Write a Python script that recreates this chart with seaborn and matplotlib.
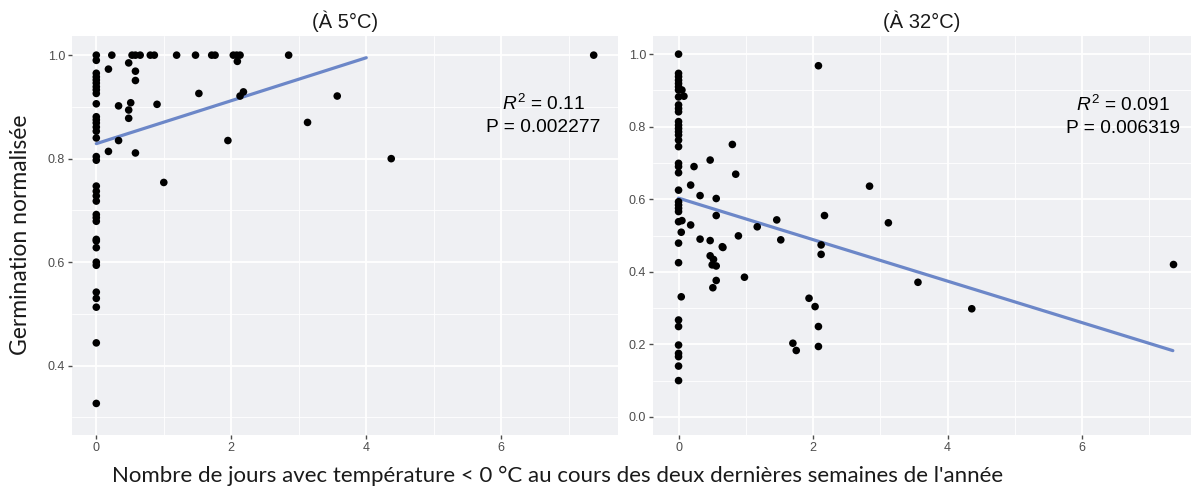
import numpy as np
import pandas as pd
import matplotlib
matplotlib.use("Agg")
import matplotlib.pyplot as plt
import seaborn as sns

# --- data ---
# (À 5°C): days below 0 °C vs normalised germination
days_5 = [0, 0, 0, 0, 0, 0, 0, 0, 0, 0, 0, 0, 0, 0, 0, 0, 0, 0, 0, 0, 0, 0, 0, 0, 0,
          0, 0, 0, 0, 0, 0, 0, 0, 0, 0,
          0.23, 0.18, 0.48, 0.53, 0.58, 0.65, 0.80, 0.86, 0.58, 0.58, 0.33, 0.51,
          0.48, 0.48, 0.90, 0.33, 0.18, 0.58, 1.00, 1.19, 1.47, 1.71, 1.76, 2.03,
          2.08, 2.13, 2.09, 1.52, 2.18, 2.13, 1.95, 2.85, 3.57, 3.13, 4.37, 7.37]
germ_5 = [1.0, 0.99, 0.965, 0.958, 0.952, 0.946, 0.939, 0.933, 0.926, 0.906, 0.881,
          0.875, 0.869, 0.861, 0.853, 0.84, 0.804, 0.797, 0.747, 0.737, 0.728, 0.718,
          0.692, 0.686, 0.679, 0.644, 0.641, 0.628, 0.6, 0.594, 0.542, 0.53, 0.513,
          0.444, 0.327,
          1.0, 0.973, 0.985, 1.0, 1.0, 1.0, 1.0, 1.0, 0.969, 0.951, 0.902, 0.908,
          0.894, 0.878, 0.905, 0.835, 0.814, 0.811, 0.754, 1.0, 1.0, 1.0, 1.0, 1.0,
          1.0, 1.0, 0.988, 0.926, 0.929, 0.921, 0.835, 1.0, 0.921, 0.87, 0.8, 1.0]

# (À 32°C)
days_32 = [0] * 36 + [
    0.05, 0.08, 0.05, 0.04, 0.18, 0.23, 0.18, 0.32, 0.47, 0.56, 0.56, 0.80, 0.85,
    0.32, 0.47, 0.65, 0.89, 1.17, 1.46, 1.52, 2.08, 2.17, 2.12, 0.04, 0.66, 0.47,
    0.52, 0.50, 0.56, 0.56, 0.51, 0.98, 2.12, 1.94, 2.03, 2.08, 2.08, 1.70, 1.75,
    2.84, 3.12, 3.56, 4.36, 7.36]
germ_32 = [1.0, 0.947, 0.938, 0.928, 0.919, 0.91, 0.901, 0.882, 0.86, 0.85, 0.841,
           0.814, 0.804, 0.795, 0.786, 0.777, 0.763, 0.745, 0.699, 0.69, 0.673,
           0.625, 0.593, 0.584, 0.575, 0.566, 0.538, 0.479, 0.425, 0.267, 0.249,
           0.198, 0.175, 0.166, 0.14, 0.1] + [
    0.901, 0.884, 0.541, 0.509, 0.529, 0.69, 0.639, 0.61, 0.708, 0.602, 0.555,
    0.751, 0.669, 0.49, 0.486, 0.469, 0.499, 0.524, 0.543, 0.488, 0.968, 0.555,
    0.474, 0.331, 0.467, 0.444, 0.434, 0.419, 0.416, 0.376, 0.356, 0.385, 0.448,
    0.327, 0.304, 0.249, 0.194, 0.203, 0.183, 0.636, 0.535, 0.371, 0.298, 0.42]

# fitted lines as drawn in the reference: intercept, slope, x end
fit_5 = (0.829, 0.0415, 4.0)
fit_32 = (0.603, -0.0572, 7.35)

titles = ["(À 5°C)", "(À 32°C)"]
stats_text = [r"$R^2$ = 0.11" + "\nP = 0.002277", r"$R^2$ = 0.091" + "\nP = 0.006319"]
xlims = [(-0.36, 7.73), (-0.38, 7.62)]
ylims = [(0.266, 1.037), (-0.05, 1.05)]
yticks = [[0.4, 0.6, 0.8, 1.0], [0.0, 0.2, 0.4, 0.6, 0.8, 1.0]]
yminor = [[0.3, 0.5, 0.7, 0.9], [0.1, 0.3, 0.5, 0.7, 0.9]]
stat_pos = [(6.62, 0.885), (6.61, 0.83)]

sns.set_theme(style="darkgrid")
plt.rcParams["font.family"] = ["Liberation Sans", "DejaVu Sans"]
plt.rcParams["mathtext.fontset"] = "custom"
plt.rcParams["mathtext.rm"] = "Liberation Sans"
plt.rcParams["mathtext.it"] = "Liberation Sans:italic"

fig = plt.figure(figsize=(11.94, 4.9), dpi=100)
axes = [fig.add_axes([72 / 1194, 1 - 435 / 490, 546 / 1194, 399 / 490]),
        fig.add_axes([653 / 1194, 1 - 435 / 490, 538 / 1194, 399 / 490])]

panels = [(days_5, germ_5, fit_5), (days_32, germ_32, fit_32)]
line_col = "#6C87C8"

for i, (ax, (xs, ys, fit)) in enumerate(zip(axes, panels)):
    ax.set_facecolor("#EFF0F3")
    df = pd.DataFrame({"x": xs, "y": ys})
    a, b, xend = fit
    fx = np.array([0.0, xend])
    fit_df = pd.DataFrame({"x": fx, "y": a + b * fx})
    sns.lineplot(data=fit_df, x="x", y="y", ax=ax, color=line_col, lw=2.3, zorder=2)
    sns.scatterplot(data=df, x="x", y="y", ax=ax, color="black", s=30,
                    edgecolor="none", zorder=3)

    ax.set_xlim(*xlims[i])
    ax.set_ylim(*ylims[i])
    ax.set_xticks([0, 2, 4, 6])
    ax.set_xticks([1, 3, 5, 7], minor=True)
    ax.set_yticks(yticks[i])
    ax.set_yticks(yminor[i], minor=True)
    ax.set_xticklabels(["0", "2", "4", "6"])
    ax.set_yticklabels([f"{v:.1f}" for v in yticks[i]])
    ax.grid(which="major", color="white", lw=1.3)
    ax.grid(which="minor", color="white", lw=0.6)
    ax.tick_params(which="major", length=3, width=1, color="#4D4D4D",
                   labelsize=9, labelcolor="#4D4D4D", pad=2, bottom=True, left=True)
    ax.tick_params(which="minor", length=0)
    for sp in ax.spines.values():
        sp.set_visible(False)
    ax.set_xlabel("")
    ax.set_ylabel("")
    ax.set_title(titles[i], fontsize=14.5, pad=6, color="#1A1A1A")
    ax.text(stat_pos[i][0], stat_pos[i][1], stats_text[i], ha="center", va="center",
            fontsize=13.8, linespacing=1.4, color="black")

fig.text(0.467, 0.028, "Nombre de jours avec température < 0 °C au cours des deux dernières semaines de l'année",
         ha="center", va="center", fontsize=16, family=["Lato", "DejaVu Sans"], color="#1A1A1A")
fig.text(0.017, 0.52, "Germination normalisée", ha="center", va="center", rotation=90,
         fontsize=16.5, family=["Lato", "DejaVu Sans"], color="#1A1A1A")

fig.savefig("out.png", dpi=100)
